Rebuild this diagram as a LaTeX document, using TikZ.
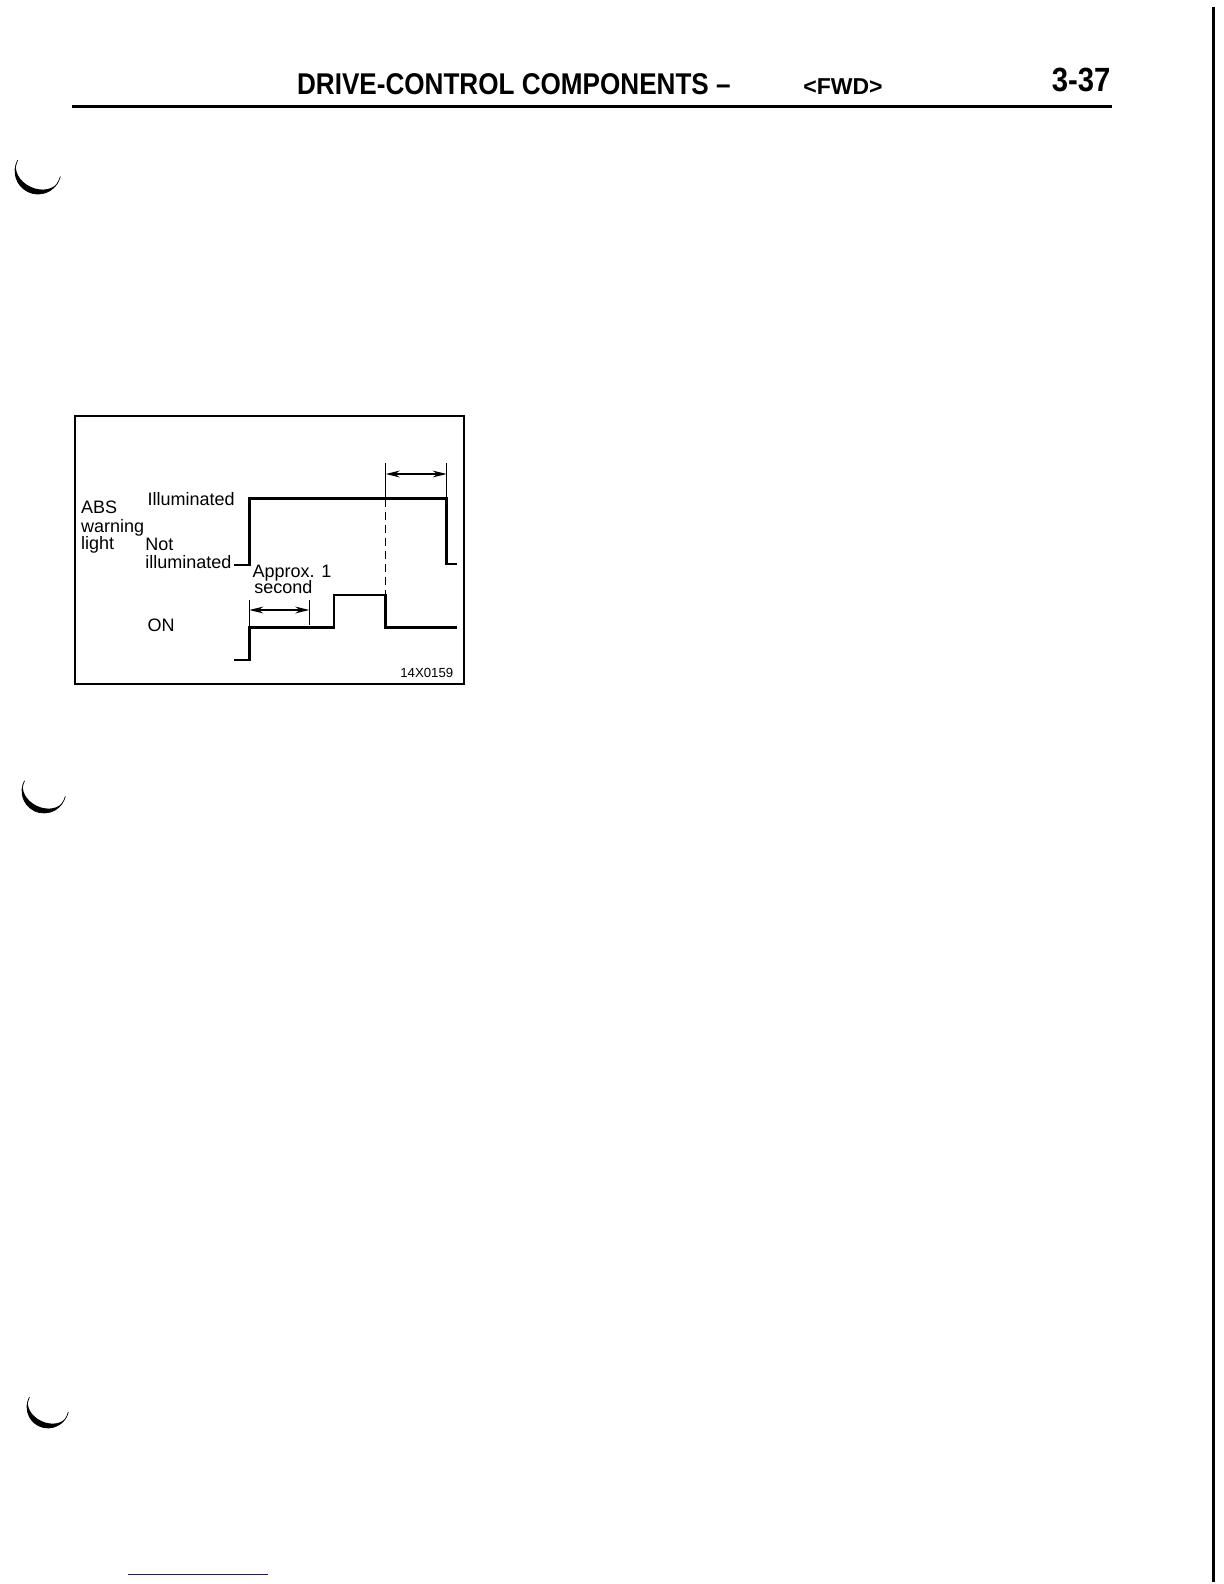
\documentclass[tikz,border=0pt]{standalone}
\usepackage{fontspec}
\setmainfont{Liberation Sans}
\newfontfamily\headfont[FakeStretch=0.87]{Liberation Sans}
\usepackage{tikz}
\usetikzlibrary{arrows.meta}

\definecolor{inkblue}{RGB}{25,25,140}

\begin{document}
\begin{tikzpicture}[x=0.5bp,y=-0.5bp,
    txt/.style={inner sep=0pt,anchor=base west,font=\fontsize{9bp}{10bp}\selectfont},
    signal/.style={line width=1.3bp,line join=miter},
    dimline/.style={line width=0.7bp},
    dimarrow/.style={line width=0.7bp,{Stealth[length=7bp,width=3.4bp]}-{Stealth[length=7bp,width=3.4bp]}}]
  \useasboundingbox (0,0) rectangle (1224,1584);

  % page head
  \node[inner sep=0pt,anchor=base west,font=\headfont\bfseries\fontsize{15bp}{16bp}\selectfont]
    (head) at (296.7,94.3) {DRIVE-CONTROL COMPONENTS –};
  \node[inner sep=0pt,anchor=base west,font=\bfseries\fontsize{11.5bp}{12bp}\selectfont]
    (fwd) at (803,94.3) {<FWD>};
  \node[inner sep=0pt,anchor=base east,font=\headfont\bfseries\fontsize{16.8bp}{18bp}\selectfont]
    (page) at (1110.7,91.7) {3-37};
  \draw[line width=1.5bp] (71.7,106.3) -- (1112.3,106.3);
  \draw[line width=1.5bp] (1213,6.7) -- (1213,1582);

  % binder holes
  \foreach \cx/\cy/\r in {38/171/23, 44/791/22, 48/1407/21}{
    \begin{scope}[shift={(\cx,\cy)},x=0.5bp,y=0.5bp]
      \draw[line width=0.35bp] (152:\r) arc[start angle=152, end angle=346, radius=\r];
      \begin{scope}[rotate=-25]
        \fill (180:\r) arc[start angle=180, end angle=360, radius=\r]
          arc[start angle=360, end angle=180, x radius=\r, y radius={\r-5.5}];
      \end{scope}
    \end{scope}
  }

  % figure frame
  \draw[line width=1bp] (74.5,416) rectangle (464,683.5);

  % labels
  \node[txt] (abs) at (80.7,513.3) {ABS};
  \node[txt] (warn) at (80.7,532.7) {warning};
  \node[txt] (light) at (80.7,549.3) {light};
  \node[txt] (illum) at (147.3,505.3) {Illuminated};
  \node[txt] (notw) at (145,550.7) {Not};
  \node[txt] (notillum) at (145,568.7) {illuminated};
  \node[txt] (approx) at (252.3,577.7) {Approx. 1};
  \node[txt] (second) at (254,593.3) {second};
  \node[txt] (on) at (147.3,631.7) {ON};
  \node[txt,font=\fontsize{6.6bp}{7bp}\selectfont] (fig) at (400,677.7) {14X0159};

  % warning light signal
  \draw[signal] (234,565) -- (249.3,565) -- (249.3,498.7) -- (446.7,498.7)
    -- (446.7,564) -- (456.7,564);
  % ON signal
  \draw[signal] (234,660) -- (249.3,660) -- (249.3,627.7) -- (334,627.7)
    -- (334,595) -- (385.7,595) -- (385.7,627.7) -- (457.3,627.7);

  % time marks
  \draw[dimline,dash pattern=on 4bp off 2.5bp] (385.7,498.7) -- (385.7,595);
  \draw[dimline] (385.7,463) -- (385.7,498.7);
  \draw[dimline] (446.7,463) -- (446.7,498.7);
  \draw[dimarrow] (385.7,474) -- (446.7,474);
  \draw[dimline] (249.3,600) -- (249.3,627.7);
  \draw[dimline] (309.3,600) -- (309.3,625);
  \draw[dimarrow] (249.3,610) -- (309.3,610);

  % foot
  \draw[inkblue,line width=0.8bp] (128,1574.5) -- (268,1574.5);
\end{tikzpicture}
\end{document}
